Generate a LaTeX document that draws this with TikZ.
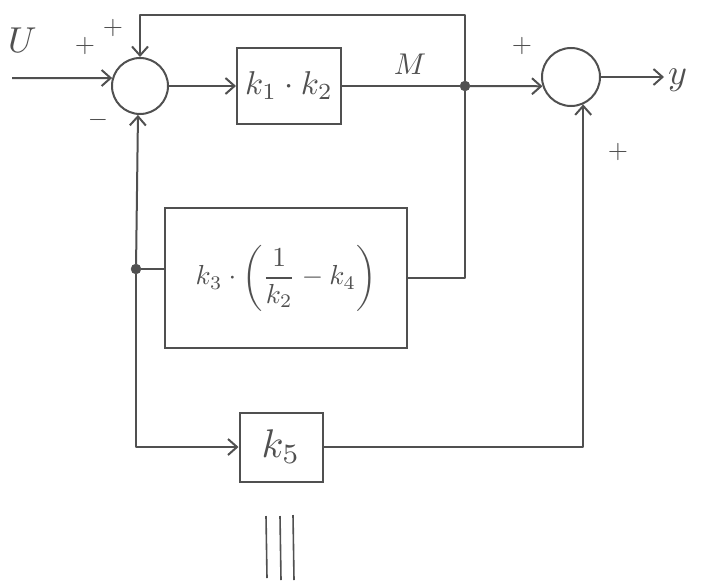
\documentclass[tikz,border=0pt]{standalone}
\usetikzlibrary{arrows.meta}
\definecolor{pencil}{RGB}{80,80,80}
\newcommand{\txtscale}[2]{\scalebox{#1}{#2}}
\begin{document}
\begin{tikzpicture}[x=1pt,y=-1pt,
  wire/.style={draw=pencil,line width=2pt,line join=round},
  arr/.style={wire,-{Straight Barb[length=9pt,width=16pt,line width=2pt]}},
  sumc/.style={circle,draw=pencil,line width=2pt,minimum size=56pt,inner sep=0pt},
  blk/.style={rectangle,draw=pencil,line width=2pt,inner sep=0pt,text=pencil},
  dot/.style={circle,fill=pencil,draw=pencil,minimum size=10pt,inner sep=0pt},
  lab/.style={text=pencil,inner sep=0pt},
  sign/.style={text=pencil,inner sep=0pt}]
\useasboundingbox (0,0) rectangle (703,586);
% nodes
\node[sumc] (s1) at (140,86) {};
\node[sumc,minimum size=58pt] (s2) at (571,77) {};
\node[blk,minimum width=104pt,minimum height=76pt] (b1) at (289,86) {\txtscale{3.3}{$k_1\cdot k_2$}};
\node[blk,minimum width=242pt,minimum height=140pt] (b2) at (286,278) {\txtscale{2.75}{$\displaystyle k_3\cdot\left(\frac{1}{k_2}-k_4\right)$}};
\node[blk,minimum width=83pt,minimum height=69pt] (b3) at (281,447) {\txtscale{4}{$k_5$}};
\node[dot] (j1) at (465,86) {};
\node[dot] (j2) at (136,269) {};
\coordinate (in) at (12,78);
\coordinate (top) at (465,15);
\node[lab,anchor=west] (U) at (8,40) {\txtscale{3.6}{$U$}};
\node[lab,anchor=west] (Y) at (668,80) {\txtscale{3.6}{$y$}};
\node[lab] (M) at (410,64) {\txtscale{3}{$M$}};
\node[sign] (p1) at (85,46) {\txtscale{2.6}{$+$}};
\node[sign] (p2) at (113,28) {\txtscale{2.6}{$+$}};
\node[sign] (m1) at (98,120) {\txtscale{2.6}{$-$}};
\node[sign] (p3) at (522,46) {\txtscale{2.6}{$+$}};
\node[sign] (p4) at (618,152) {\txtscale{2.6}{$+$}};
% connectors
\draw[arr] (in) -- (s1.164);
\draw[arr] (j1) -- (top) -| (s1.north);
\draw[arr] (s1) -- (b1);
\draw[wire] (b1) -- (j1);
\draw[arr] (j1) -- (s2.198);
\draw[arr,shorten >=4pt] (s2.east) -- (s2.east -| Y.west);
\draw[wire] (j1) |- (b2.east);
\draw[wire] (j2) -- (j2 -| b2.west);
\draw[arr] (j2) -- (s1.266);
\draw[arr] (j2) |- (b3.west);
\draw[arr] (b3.east) -| (s2.294);
% triple bar
\draw[wire,line width=1.6pt] (266,516) -- (267,578);
\draw[wire,line width=1.6pt] (280,516) -- (281,580);
\draw[wire,line width=1.6pt] (293,515) -- (294,580);
\end{tikzpicture}
\end{document}
